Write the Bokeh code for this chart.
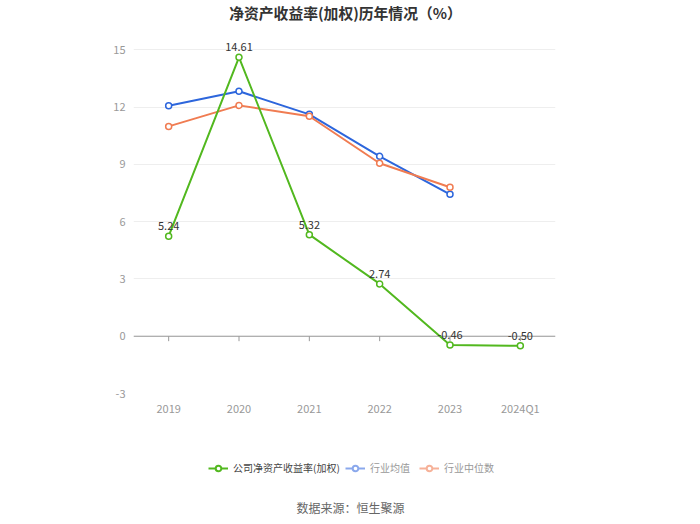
from bokeh.plotting import figure
from bokeh.layouts import column
from bokeh.models import (FactorRange, Range1d, Legend, LegendItem, Span, ColumnDataSource,
                          FixedTicker, PrintfTickFormatter, Label)
from bokeh.core.properties import value
from bokeh.embed import file_html
from bokeh.resources import INLINE

categories = ["2019", "2020", "2021", "2022", "2023", "2024Q1"]
company_roe = [5.24, 14.61, 5.32, 2.74, -0.46, -0.50]
industry_avg_cats = ["2019", "2020", "2021", "2022", "2023"]
industry_avg = [12.07, 12.83, 11.62, 9.42, 7.43]
industry_median = [10.99, 12.09, 11.52, 9.06, 7.80]
y_ticks = [-3, 0, 3, 6, 9, 12, 15]
series_names = ["公司净资产收益率(加权)", "行业均值", "行业中位数"]
title_text = "净资产收益率(加权)历年情况（%）"
source_text = "数据来源：恒生聚源"

FONT = "Noto Sans CJK SC"
GREEN = "#52b81f"
BLUE = "#2d66dc"
ORANGE = "#f07c52"
BLUE_LIGHT = "#8aa8ec"
ORANGE_LIGHT = "#f6b198"
NAN = float("nan")


def bare(height, y_end):
    f = figure(width=700, height=height, x_range=Range1d(133, 555), y_range=Range1d(0, y_end),
               output_backend="svg", toolbar_location=None, x_axis_type=None, y_axis_type=None,
               min_border_left=133, min_border_right=145, min_border_top=0, min_border_bottom=0)
    f.outline_line_color = None
    f.grid.visible = False
    f.background_fill_color = "white"
    f.border_fill_color = "white"
    return f


# Title strip
t = bare(35, 35)
t.add_layout(Label(x=345, y=23, text=title_text, text_align="center", text_baseline="middle",
                   text_font=FONT, text_font_size="14.8px", text_font_style="bold",
                   text_color="#333333"))

# Main chart
p = figure(width=700, height=395, x_range=FactorRange(*categories, range_padding=0),
           y_range=Range1d(-3, 15.75), output_backend="svg", toolbar_location=None,
           min_border_left=133, min_border_right=145, min_border_top=0, min_border_bottom=37)
p.outline_line_color = None
p.background_fill_color = "white"
p.border_fill_color = "white"

p.xgrid.grid_line_color = None
p.ygrid.grid_line_color = "#eeeeee"
p.ygrid.ticker = FixedTicker(ticks=y_ticks)
p.yaxis.ticker = FixedTicker(ticks=y_ticks)
p.yaxis.formatter = PrintfTickFormatter(format="%d")
p.yaxis.axis_line_color = None
p.yaxis.major_tick_line_color = None
p.yaxis.minor_tick_line_color = None
p.yaxis.major_tick_out = 0
p.yaxis.major_label_text_color = "#999999"
p.yaxis.major_label_text_font = FONT
p.yaxis.major_label_text_font_size = "11px"
p.yaxis.major_label_standoff = 8

p.xaxis.axis_line_color = None
p.xaxis.major_tick_line_color = None
p.xaxis.major_tick_out = 0
p.xaxis.major_label_text_color = "#999999"
p.xaxis.major_label_text_font = FONT
p.xaxis.major_label_text_font_size = "11px"
p.xaxis.major_label_standoff = 6

p.add_layout(Span(location=0, dimension="width", line_color="#999999", line_width=1,
                  level="underlay"))
p.segment(x0=categories, y0=[0] * len(categories), x1=categories,
          y1=[-0.26] * len(categories), line_color="#999999", line_width=1)

p.line(industry_avg_cats, industry_avg, line_color=BLUE, line_width=2)
p.scatter(industry_avg_cats, industry_avg, size=6, marker="circle",
          line_color=BLUE, fill_color="white", line_width=1.5)
p.line(industry_avg_cats, industry_median, line_color=ORANGE, line_width=2)
p.scatter(industry_avg_cats, industry_median, size=6, marker="circle",
          line_color=ORANGE, fill_color="white", line_width=1.5)
p.line(categories, company_roe, line_color=GREEN, line_width=2)
p.scatter(categories, company_roe, size=6, marker="circle",
          line_color=GREEN, fill_color="white", line_width=1.5)

src = ColumnDataSource(dict(x=categories, y=company_roe, t=["%.2f" % v for v in company_roe]))
p.text(x="x", y="y", text="t", source=src, text_align="center", text_baseline="bottom",
       y_offset=-6, text_font=value(FONT), text_font_size="11px", text_color="#333333",
       level="overlay")

# Legend + source strip
q = bare(94, 94)


def legend_item(name, col):
    rl = q.line(x=[NAN], y=[NAN], line_color=col, line_width=2)
    rc = q.scatter(x=[NAN], y=[NAN], size=9, marker="circle", line_color=col,
                   fill_color="white", line_width=2)
    return LegendItem(label=name, renderers=[rl, rc])


common = dict(orientation="horizontal", border_line_color=None, background_fill_alpha=0,
              padding=0, margin=0, spacing=9, glyph_width=20, glyph_height=14,
              label_standoff=5, label_text_font=FONT, label_text_font_size="10px")
legend1 = Legend(items=[legend_item(series_names[0], GREEN)], location=(75, 49),
                 label_text_color="#444444", **common)
legend2 = Legend(items=[legend_item(series_names[1], BLUE_LIGHT),
                        legend_item(series_names[2], ORANGE_LIGHT)], location=(212, 49),
                 label_text_color="#999999", **common)
q.add_layout(legend1, "center")
q.add_layout(legend2, "center")

q.add_layout(Label(x=350, y=17, text=source_text, text_align="center",
                   text_baseline="middle", text_font=FONT, text_font_size="12px",
                   text_color="#666666"))

layout = column(t, p, q, spacing=0)
open("out.html", "w").write(file_html(layout, INLINE))
